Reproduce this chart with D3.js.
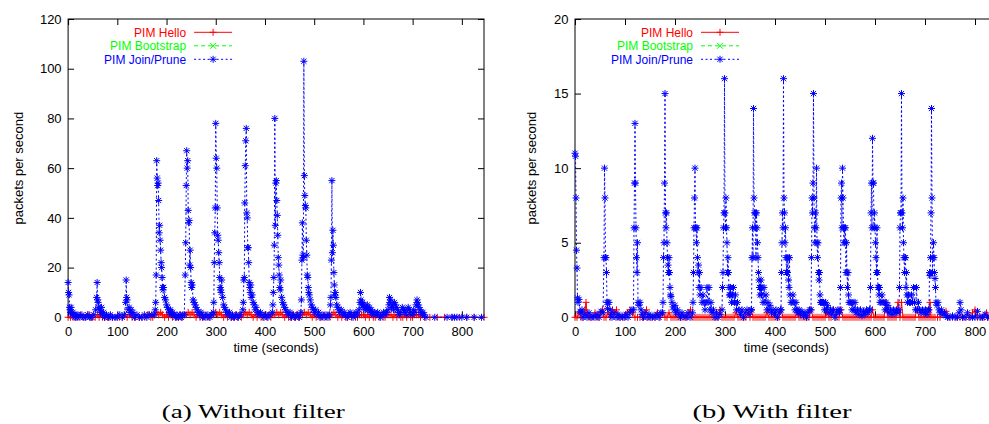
<!DOCTYPE html>
<html><head><meta charset="utf-8">
<script src="https://cdn.jsdelivr.net/npm/d3@7/dist/d3.min.js"></script>
<style>
body{margin:0;background:#fff}
svg text{font-family:"Liberation Sans",Arial,Helvetica,sans-serif}
</style>
</head><body>
<svg id="chart" width="989" height="424"></svg>
<script>
// ---------- data ----------
const seriesNames = ["PIM Hello", "PIM Bootstrap", "PIM Join/Prune"];
const seriesColors = ["#ff0000", "#00ff00", "#0000ff"];
const xTicks = [0, 100, 200, 300, 400, 500, 600, 700, 800];
const yTicksA = [0, 20, 40, 60, 80, 100, 120];
const yTicksB = [0, 5, 10, 15, 20];
const xLabel = "time (seconds)";
const yLabel = "packets per second";
const captions = ["(a) Without filter", "(b) With filter"];

// (a) Without filter : [time, packets/s]
const helloA = [[0,0],[5,0],[10,0],[15,0],[20,0],[25,1],[30,0],[35,0],[40,1],[43,1],[46,0],[50,0],[55,0],[60,1],[63,0],[66,1],[70,0],[75,0],[80,0],[85,0],[90,0],[97,0],[104,0],[110,0],[115,1],[120,0],[125,1],[130,0],[137,0],[144,0],[150,0],[156,0],[161,1],[164,1],[168,0],
[172,0],[176,1],[180,2],[184,1],[188,2],[192,1],[196,0],[200,1],[204,0],[208,1],[212,0],[216,1],[220,0],[224,0],[228,1],[232,0],[236,1],[240,1],[244,2],[248,1],[252,2],[256,1],[260,0],[264,1],[268,0],[272,1],[276,0],[280,1],[284,0],[288,0],[292,1],[296,1],[300,2],[304,1],[308,2],[312,1],[316,0],[320,1],[324,0],[328,1],[332,0],[336,0],[340,1],[344,0],[348,1],[352,0],[356,1],[360,2],[364,1],[368,2],[372,1],[376,0],[380,1],[384,0],[388,1],[392,0],[396,0],[400,1],[404,0],[408,1],[412,0],[416,1],[420,1],[424,2],[428,1],[432,2],[436,1],[440,0],[444,1],[448,0],[452,0],[456,1],[460,0],[464,1],[468,0],[472,1],[476,1],[480,2],[484,1],[488,2],[492,1],[496,0],[500,1],[504,0],[508,1],[512,0],[516,0],[520,1],[524,0],[528,1],[532,0],[536,1],[540,2],[544,1],[548,0],[552,1],[556,0],[560,1],[564,0],[568,0],[572,1],[576,0],[580,1],[584,0],[588,0],[592,1],[596,1],[600,1],[604,0],[608,1],[612,0],[616,1],[620,0],[624,0],[628,1],[632,0],[636,1],[640,0],[644,0],[648,1],[652,1],[656,1],[660,0],[664,1],[668,0],[672,1],[676,0],[680,0],[684,1],[688,0],[692,1],[696,0],[700,0],[704,1],[708,1],[712,1],[716,0],[720,1],
[724,0],[735,0],[750,0],[765,0],[780,0],[795,0],[810,0],[825,0],[845,0]];
const bootstrapA = [];
const joinA = [[0,14],[1,10],[2,9],[3,4],[4,3],[5,2],[6,4],[8,1],[10,2],[12,1],[14,0],[16,1],[18,0],[20,1],[24,0],[28,1],[32,0],[36,0],[40,1],[44,0],[48,0],[52,1],
[56,3],[58,8],[59,14],[60,7],[61,6],[62,4],[64,3],[66,2],[68,4],[70,1],[72,2],[74,0],[78,1],[82,0],[86,1],[90,0],[95,0],[100,0],[105,1],[110,0],[114,1],
[117,6],[118,15],[119,8],[120,7],[122,3],[124,4],[126,2],[128,3],[130,1],[132,2],[135,0],[140,1],[145,0],[150,0],[155,1],[160,0],[165,1],[170,1],
[175,1],[177,3],[178,6],[179,17],[180,63],[181,56],[182,53],[183,54],[184,47],[185,34],[186,37],[187,31],[188,27],[189,22],[190,20],[191,16],[192,12],[193,11],[194,12],[196,8],[198,7],[200,5],[202,4],[204,3],[206,2],[208,3],[210,1],[212,2],[215,1],[218,0],[221,1],[224,0],[227,1],[230,0],[233,1],
[236,1],[238,17],[239,30],[240,53],[241,67],[242,60],[243,63],[244,43],[245,38],[246,39],[247,21],[248,27],[249,20],[250,14],[251,12],[252,13],[254,7],[256,6],[258,5],[260,4],[262,3],[264,2],[267,1],[270,2],[273,0],[276,1],[280,0],[284,1],[288,0],[292,1],
[295,2],[296,6],[297,22],[298,34],[299,44],[300,78],[301,64],[302,60],[303,44],[304,33],[305,31],[306,26],[307,22],[308,16],[309,12],[310,11],[311,10],[312,15],[314,8],[316,5],[318,4],[320,3],[322,2],[325,1],[328,2],[331,0],[334,1],[338,0],[342,1],[346,0],[350,1],
[355,3],[356,6],[357,15],[358,16],[359,46],[360,61],[361,71],[362,76],[363,42],[364,40],[365,28],[366,28],[367,22],[368,14],[369,12],[370,10],[371,13],[372,8],[374,9],[376,6],[378,5],[380,3],[382,4],[385,2],[388,1],[391,2],[394,1],[398,0],[402,1],[406,0],[410,1],
[415,2],[416,5],[417,10],[418,16],[419,29],[420,80],[421,37],[422,54],[423,55],[424,47],[425,41],[426,33],[427,24],[428,21],[429,17],[430,12],[431,11],[432,15],[434,8],[436,6],[438,5],[440,4],[442,3],[445,2],[448,1],[451,2],[454,0],[458,1],[462,0],[466,1],[470,0],
[473,2],[474,7],[475,23],[476,38],[477,25],[478,24],[479,103],[480,57],[481,49],[482,45],[483,44],[484,31],[485,25],[486,17],[487,16],[488,12],[489,10],[490,9],[492,7],[494,5],[496,4],[498,3],[500,2],[503,3],[506,1],[509,2],[512,0],[516,1],[520,0],[524,1],[528,0],
[531,1],[533,5],[534,8],[535,23],[536,55],[537,26],[538,35],[539,29],[540,18],[541,13],[542,9],[543,10],[544,8],[546,5],[548,4],[550,3],[552,2],[555,3],[558,1],[561,2],[564,1],[567,0],[570,1],[573,2],[576,1],[579,0],[582,1],[585,2],[588,1],[591,3],
[593,6],[594,10],[595,7],[596,5],[598,6],[600,4],[602,5],[604,3],[606,4],[608,5],[610,3],[612,4],[614,2],[616,3],[618,2],[620,1],[623,2],[626,1],[629,2],[632,1],[635,0],[638,1],[641,2],[644,1],[647,2],[650,3],[652,5],[653,8],[654,6],[655,7],[657,4],[659,5],[661,3],[663,6],[665,5],[667,4],[669,3],[671,2],[673,1],[676,2],[679,4],[681,3],[683,2],[685,3],[688,1],[691,4],[693,3],[696,2],[699,1],[702,3],[705,2],[707,5],[709,7],[710,6],[711,5],[713,4],[715,3],[717,2],[719,1],[721,2],[724,1],[727,0],
[745,0],[770,0],[780,0],[785,0],[790,0],[800,0],[810,0],[825,0],[840,0]];

// (b) With filter : [time, packets/s]
const helloB = [[0,0],[4,0],[8,0.3],[12,0],[16,0],[20,0.5],[22,1],[24,0.3],[28,0],[32,0],[36,0],[40,0.3],[44,0],[48,0],[52,0.3],[55,0.5],[58,0],[62,0],[66,0.3],[70,0],[75,0.5],[80,0.3],[83,0.5],[86,0],[90,0],[95,0],[100,0],[105,0.3],[110,0.5],[115,0.3],[120,0],[125,0],[130,0],[135,0],[140,0.3],[143,0.5],[146,0],[150,0],[155,0],[160,0],[165,0.3],[170,0],[175,0.3],[180,0],[184,0],[188,0.3],[192,0],[196,0],
[200,0],[204,0],[208,0],[212,0],[216,0],[220,0],[224,0],[228,0.3],[231,0.5],[234,0],[238,0],[242,0],[246,0],[250,0],[254,0],[258,0],[262,0],[266,0],[270,0],[274,0],[278,0],[282,0],[286,0],[290,0.5],[294,0],[298,0],[302,0],[306,0],[310,0],[314,0],[318,0],[322,0.3],[326,0],[330,0],[334,0],[338,0],[342,0],[346,0.3],[350,0],[353,0.5],[356,0],[360,0],[364,0],[368,0],[372,0],[376,0],[380,0],[384,0.3],[388,0],[392,0],[396,0],[400,0],[404,0],[408,0],[412,0.5],[416,0],[420,0],[424,0],[428,0],[432,0],[436,0],[440,0],[444,0.3],[448,0],[452,0],[456,0],[460,0],[464,0],[468,0],[472,0.5],[476,0],[480,0],[484,0],[488,0],[492,0],[496,0],[500,0],[504,0.3],[508,0],[512,0],[516,0.5],[520,0],[524,0],[528,0],[532,0.5],[536,0],[540,0],[544,0],[548,0],[552,0],[556,0],[560,0],[564,0],[568,0],[572,0],[576,0],[580,0],[584,0],[588,0],[592,0],[595,0.5],[598,0],[602,0],[606,0],[610,0],[614,0],[618,0],[622,1],[626,0],[630,0],[634,0],[638,0],[642,0],[646,1],[650,0],[653,1],[656,0],[660,0],[664,0],[668,0],[672,0],[676,0],[680,0],[684,0.5],[688,0],[692,0],[696,0],[700,0],[704,0],[708,0],[710,1],[712,0],[716,0],[720,0],
[725,0],[730,0],[742,0.4],[748,0],[755,0],[762,0],[770,0],[776,0],[782,0],[788,0],[795,0.3],[800,0.5],[805,0],[812,0],[818,0],[823,0.3],[828,0],[835,0],[845,0]];
const bootstrapB = [];
const joinB = [[0,11],[1,10.8],[2,8],[3,4.5],[4,3.3],[5,1.3],[6,1],[8,1.2],[10,0.4],[12,0.3],[14,0.5],[16,0],[20,0.2],[24,0],[28,0.3],[32,0],[36,0.1],[40,0],[44,0.2],[48,0],[52,0.4],
[56,0.3],[58,4],[59,10],[60,8],[61,4],[62,4],[63,3],[64,1],[65,0.6],[66,1],[68,1],[70,0.5],[72,0.2],[74,0],[78,0.3],[82,0],[86,0.2],[90,0],[94,0.1],[98,0],[102,0.2],[106,0],[110,0.3],[114,0.5],
[117,0.5],[118,6],[119,9],[120,13],[121,9],[122,6],[123,4],[124,3],[125,5],[126,1],[128,0.8],[130,1],[132,0.5],[134,0.2],[137,0],[140,0.3],[144,0],[148,0.2],[152,0],[156,0.1],[160,0],[164,0.2],[168,0],[172,0.3],
[175,0.3],[176,1],[177,4],[178,5],[179,9],[180,15],[181,7],[182,6],[183,7],[184,5],[185,4],[186,3.5],[187,3],[188,4],[189,3],[190,2],[191,1.5],[192,1.4],[194,1],[196,0.7],[198,0.5],[200,0.8],[202,0.3],[205,0.5],[208,0.2],[211,0],[214,0.3],[218,0.1],[222,0],[226,0.3],[230,0],
[235,0.3],[236,1],[237,3],[238,6],[239,8],[240,10],[241,6],[242,6],[243,5],[244,6],[245,4],[246,3],[247,3.5],[248,2],[249,3],[250,1.5],[252,2],[254,1],[256,1.5],[258,1],[260,0.5],[262,1],[264,2],[266,1],[268,2],[270,0.5],[272,1],[274,0.3],[277,0.5],[280,0],[283,0.3],[286,0],[290,0.2],[294,0.5],
[295,2],[296,3],[297,6],[298,7],[299,16],[300,7],[301,6],[302,8],[303,6],[304,5],[305,3],[306,4],[307,3],[308,2],[309,1.5],[310,1.5],[311,2],[312,1.5],[313,1],[315,1.5],[317,2],[319,1],[321,1.5],[323,0.5],[325,1],[328,0.5],[331,0.2],[334,0.5],[337,0],[340,0.3],[344,0.5],[348,0.2],[352,0.5],
[353,0.5],[354,4],[355,6],[356,4],[357,14],[358,8],[359,7],[360,6],[361,7],[362,4],[363,7],[364,6],[365,5],[366,4],[367,3],[368,2.5],[369,2],[370,1.5],[371,2],[372,2.5],[373,1.5],[374,2],[376,1],[378,2],[380,1],[382,1.5],[384,0.5],[386,1],[388,0.5],[390,0.8],[393,0.3],[396,0.5],[399,0.2],[402,0.5],[405,0],[408,0.3],[411,0.5],
[412,0.5],[413,3],[414,5],[415,7],[416,6],[417,16],[418,8],[419,7],[420,5],[421,6],[422,4],[423,3],[424,4],[425,3],[426,4],[427,2.5],[428,2],[429,4],[430,1.5],[432,1],[434,1],[436,1.5],[438,1],[440,0.5],[442,1],[444,0.5],[446,0.3],[448,0.5],[451,0.2],[454,0.4],[457,0.1],[460,0.3],[463,0],[466,0.3],[469,0.5],
[472,0.5],[473,4],[474,8],[475,7],[476,9],[477,15],[478,8],[479,6],[480,5],[481,7],[482,6],[483,10],[484,5],[485,4],[486,5],[487,3],[488,2.5],[489,3],[490,1.5],[491,1],[493,1],[495,1],[497,1],[499,0.5],[501,1],[503,0.5],[505,0.8],[508,0.3],[511,0.5],[514,0.2],[517,0.5],[520,0],[523,0.3],[526,0.5],[529,0.3],
[530,0.5],[531,2],[532,8],[533,9],[534,6],[535,10],[536,8],[537,6],[538,5],[539,6],[540,5],[541,6],[542,3],[543,5],[544,3],[545,2],[546,3],[547,1.5],[548,1],[550,1],[552,1],[554,0.5],[556,1],[558,0.5],[560,1],[562,0.3],[565,0.5],[568,0.2],[571,0.5],[574,0.1],[577,0.4],[580,0.2],[583,0.5],[586,0.3],[589,0.5],
[590,0.5],[591,2],[592,7],[593,9],[594,6],[595,12],[596,9],[597,9],[598,6],[599,7],[600,6],[601,5],[602,4],[603,3],[604,6],[605,3],[606,2],[607,2],[608,1.5],[609,2],[610,1],[612,1],[614,1.5],[616,1],[618,1],[620,0.5],[622,1],[624,0.5],[626,0.8],[628,0.3],[631,0.5],[634,0.2],[637,0.5],[640,0.3],[643,0.5],[646,0.3],
[648,0.5],[649,2],[650,6],[651,7],[652,7],[653,15],[654,7],[655,6],[656,8],[657,5],[658,4],[659,3],[660,4],[661,4],[662,2],[663,3],[664,1.5],[665,1],[667,1.5],[669,1],[671,1],[673,1.5],[675,1],[677,2],[679,1],[681,0.5],[683,2],[685,0.5],[687,1],[689,0.5],[692,0.3],[695,0.5],[698,0.3],[701,0.5],[704,0.2],[707,0.5],
[708,0.5],[709,3],[710,2.8],[711,4],[712,7],[713,14],[714,8],[715,3],[716,4],[717,5],[718,4],[719,3],[720,2.6],[721,2],[722,1],[724,0.8],[726,1],[728,0.5],[730,0.3],[733,0.5],[736,0.2],[739,0.3],[742,0.1],[745,0],[750,0],[755,0.1],[760,0],[765,0],[768,0.3],[770,1],[772,0.5],[775,0],[780,0],[785,0.3],[790,0],[795,0],[800,0],[805,0.4],[810,0],[815,0],[820,0.2],[825,0],[830,0]];

const xDomain = [0, 845];

// ---------- drawing ----------
const svg = d3.select("#chart");
const FS = 13;
const LFS = 12;

const markers = [
  "M-3.5,0H3.5M0,-3.5V3.5",                              // +
  "M-3,-3L3,3M-3,3L3,-3",                                // x
  "M-3.5,0H3.5M0,-3.5V3.5M-2.6,-2.6L2.6,2.6M-2.6,2.6L2.6,-2.6" // *
];
const dashes = [null, "4,3", "2,2.5"];

function drawPanel(cfg) {
  const g = svg.append("g");
  const x = d3.scaleLinear().domain(xDomain).range([cfg.left, cfg.right]);
  const y = d3.scaleLinear().domain([cfg.yTicks[0], cfg.yTicks[cfg.yTicks.length - 1]]).range([cfg.bottom, cfg.top]);

  // frame
  g.append("rect")
    .attr("x", cfg.left).attr("y", cfg.top)
    .attr("width", cfg.right - cfg.left).attr("height", cfg.bottom - cfg.top)
    .attr("fill", "none").attr("stroke", "#000").attr("stroke-width", 1);

  const axes = [
    [d3.axisBottom(x).tickValues(xTicks).tickFormat(d3.format("d")), `translate(0,${cfg.bottom})`],
    [d3.axisTop(x).tickValues(xTicks).tickFormat(""), `translate(0,${cfg.top})`],
    [d3.axisLeft(y).tickValues(cfg.yTicks).tickFormat(d3.format("d")), `translate(${cfg.left},0)`],
    [d3.axisRight(y).tickValues(cfg.yTicks).tickFormat(""), `translate(${cfg.right},0)`]
  ];
  axes.forEach(([ax, tr], i) => {
    ax.tickSizeInner(-6).tickSizeOuter(0).tickPadding(i === 0 ? 9.5 : 6.5);
    const a = g.append("g").attr("transform", tr).call(ax);
    a.select(".domain").remove();
    a.selectAll(".tick line").attr("stroke", "#000");
    a.selectAll("text").attr("fill", "#000").style("font-size", FS + "px");
  });

  // series
  const sets = [cfg.hello, cfg.bootstrap, cfg.join];
  const line = d3.line().x(d => x(d[0])).y(d => y(d[1]));
  sets.forEach((data, i) => {
    if (!data.length) return;
    g.append("path").datum(data)
      .attr("d", line)
      .attr("fill", "none")
      .attr("stroke", seriesColors[i])
      .attr("stroke-width", 1)
      .attr("stroke-dasharray", dashes[i]);
    g.append("g").selectAll("path").data(data).join("path")
      .attr("transform", d => `translate(${x(d[0])},${y(d[1])})`)
      .attr("d", markers[i])
      .attr("fill", "none")
      .attr("stroke", seriesColors[i])
      .attr("stroke-width", 1);
  });

  // legend
  seriesNames.forEach((name, i) => {
    const ly = cfg.top + 13.3 + i * 13.5;
    const lx = cfg.left + 118;
    g.append("text").attr("x", lx).attr("y", ly).attr("dy", "0.36em")
      .attr("text-anchor", "end").attr("fill", seriesColors[i])
      .style("font-size", LFS + "px").text(name);
    g.append("line").attr("x1", lx + 8).attr("x2", lx + 46).attr("y1", ly).attr("y2", ly)
      .attr("stroke", seriesColors[i]).attr("stroke-width", 1).attr("stroke-dasharray", dashes[i]);
    g.append("path").attr("transform", `translate(${lx + 27},${ly})`).attr("d", markers[i])
      .attr("fill", "none").attr("stroke", seriesColors[i]).attr("stroke-width", 1);
  });

  // axis titles
  g.append("text").attr("x", (cfg.left + cfg.right) / 2).attr("y", 352.3)
    .attr("text-anchor", "middle").style("font-size", FS + "px").text(xLabel);
  g.append("text").attr("transform", `translate(${cfg.ylabX},${(cfg.top + cfg.bottom) / 2}) rotate(-90)`)
    .attr("dy", "0.35em").attr("text-anchor", "middle").style("font-size", FS + "px").text(yLabel);

  // caption
  g.append("text").attr("x", cfg.capX).attr("y", 417.7).attr("text-anchor", "middle")
    .style("font-family", "'Liberation Serif', 'Times New Roman', serif").style("font-size", "19px")
    .attr("textLength", cfg.capW).attr("lengthAdjust", "spacingAndGlyphs")
    .text(cfg.caption);
}

drawPanel({left: 68.1, right: 484, top: 19, bottom: 317.3, yTicks: yTicksA,
  hello: helloA, bootstrap: bootstrapA, join: joinA, ylabX: 18.3, capX: 253.3, capW: 183, caption: captions[0]});
drawPanel({left: 575, right: 997.5, top: 19, bottom: 317.3, yTicks: yTicksB,
  hello: helloB, bootstrap: bootstrapB, join: joinB, ylabX: 531.7, capX: 772, capW: 159, caption: captions[1]});
</script>
</body></html>
